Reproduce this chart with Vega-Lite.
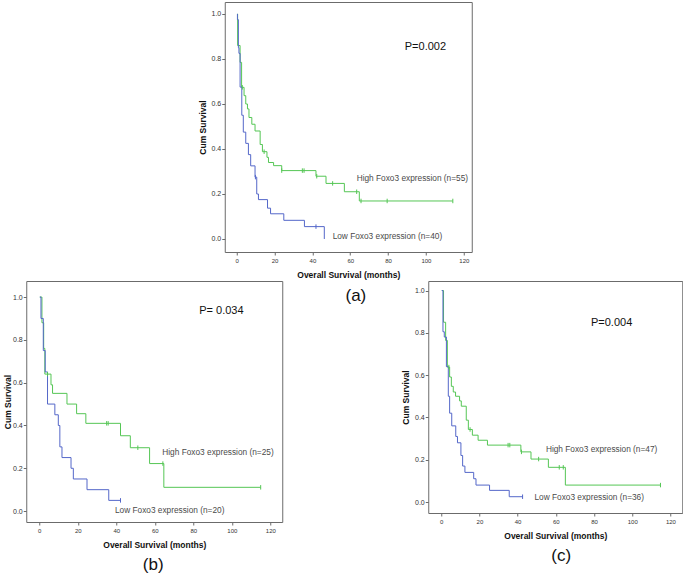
{
  "$schema": "https://vega.github.io/schema/vega-lite/v6.json",
  "padding": {"left": 3, "top": 1, "right": 0, "bottom": 0},
  "background": "white",
  "bounds": "full",
  "center": true,
  "spacing": 1,
  "config": {
    "font": "Liberation Sans",
    "view": {"stroke": "#6b6b6b", "strokeWidth": 1},
    "axis": {"domain": false, "grid": false, "tickColor": "#6b6b6b", "tickSize": 3, "labelColor": "#333333", "titleColor": "#111111", "titleFontWeight": "bold", "titleFontSize": 8.5, "labelFont": "Liberation Sans", "titleFont": "Liberation Sans"},
    "axisX": {"labelFontSize": 6, "labelPadding": 2, "titlePadding": 7},
    "axisY": {"labelFontSize": 7, "labelPadding": 1, "titlePadding": 4},
    "title": {"font": "Liberation Sans", "fontSize": 17, "fontWeight": "normal", "orient": "bottom", "color": "#111111", "offset": 8}
  },
  "datasets": {
    "km": [
      {"panel": "a", "group": "High", "t": 0.3, "s": 1},
      {"panel": "a", "group": "High", "t": 0.5, "s": 0.86},
      {"panel": "a", "group": "High", "t": 1.8, "s": 0.785},
      {"panel": "a", "group": "High", "t": 2.6, "s": 0.674},
      {"panel": "a", "group": "High", "t": 3.9, "s": 0.637},
      {"panel": "a", "group": "High", "t": 4.8, "s": 0.6},
      {"panel": "a", "group": "High", "t": 5.7, "s": 0.578},
      {"panel": "a", "group": "High", "t": 6.5, "s": 0.54},
      {"panel": "a", "group": "High", "t": 8, "s": 0.51},
      {"panel": "a", "group": "High", "t": 9.7, "s": 0.48},
      {"panel": "a", "group": "High", "t": 12.4, "s": 0.42},
      {"panel": "a", "group": "High", "t": 13.6, "s": 0.388},
      {"panel": "a", "group": "High", "t": 16, "s": 0.363},
      {"panel": "a", "group": "High", "t": 16.8, "s": 0.34},
      {"panel": "a", "group": "High", "t": 19.5, "s": 0.326},
      {"panel": "a", "group": "High", "t": 23.8, "s": 0.304},
      {"panel": "a", "group": "High", "t": 41.9, "s": 0.279},
      {"panel": "a", "group": "High", "t": 47.2, "s": 0.247},
      {"panel": "a", "group": "High", "t": 56.9, "s": 0.21},
      {"panel": "a", "group": "High", "t": 64.8, "s": 0.169},
      {"panel": "a", "group": "High", "t": 114.2, "s": 0.169},
      {"panel": "a", "group": "Low", "t": 0.3, "s": 1},
      {"panel": "a", "group": "Low", "t": 0.4, "s": 0.975},
      {"panel": "a", "group": "Low", "t": 0.9, "s": 0.85},
      {"panel": "a", "group": "Low", "t": 1.2, "s": 0.825},
      {"panel": "a", "group": "Low", "t": 1.8, "s": 0.675},
      {"panel": "a", "group": "Low", "t": 2.7, "s": 0.55},
      {"panel": "a", "group": "Low", "t": 3.5, "s": 0.475},
      {"panel": "a", "group": "Low", "t": 4.8, "s": 0.425},
      {"panel": "a", "group": "Low", "t": 6.2, "s": 0.375},
      {"panel": "a", "group": "Low", "t": 7.4, "s": 0.325},
      {"panel": "a", "group": "Low", "t": 9.7, "s": 0.275},
      {"panel": "a", "group": "Low", "t": 10.6, "s": 0.2},
      {"panel": "a", "group": "Low", "t": 11.5, "s": 0.175},
      {"panel": "a", "group": "Low", "t": 16.3, "s": 0.137},
      {"panel": "a", "group": "Low", "t": 17.9, "s": 0.112},
      {"panel": "a", "group": "Low", "t": 24.9, "s": 0.083},
      {"panel": "a", "group": "Low", "t": 35.8, "s": 0.055},
      {"panel": "a", "group": "Low", "t": 46.3, "s": 0},
      {"panel": "b", "group": "High", "t": 0.3, "s": 1},
      {"panel": "b", "group": "High", "t": 1.4, "s": 0.88},
      {"panel": "b", "group": "High", "t": 2.3, "s": 0.76},
      {"panel": "b", "group": "High", "t": 2.9, "s": 0.64},
      {"panel": "b", "group": "High", "t": 6.1, "s": 0.59},
      {"panel": "b", "group": "High", "t": 6.9, "s": 0.55},
      {"panel": "b", "group": "High", "t": 14.4, "s": 0.5},
      {"panel": "b", "group": "High", "t": 19.4, "s": 0.455},
      {"panel": "b", "group": "High", "t": 24.2, "s": 0.41},
      {"panel": "b", "group": "High", "t": 42.2, "s": 0.352},
      {"panel": "b", "group": "High", "t": 47.3, "s": 0.296},
      {"panel": "b", "group": "High", "t": 57.3, "s": 0.222},
      {"panel": "b", "group": "High", "t": 64.7, "s": 0.111},
      {"panel": "b", "group": "High", "t": 115, "s": 0.111},
      {"panel": "b", "group": "Low", "t": 0.3, "s": 1},
      {"panel": "b", "group": "Low", "t": 0.9, "s": 0.9},
      {"panel": "b", "group": "Low", "t": 2.1, "s": 0.75},
      {"panel": "b", "group": "Low", "t": 3.1, "s": 0.65},
      {"panel": "b", "group": "Low", "t": 4.3, "s": 0.5},
      {"panel": "b", "group": "Low", "t": 8.1, "s": 0.45},
      {"panel": "b", "group": "Low", "t": 9.9, "s": 0.4},
      {"panel": "b", "group": "Low", "t": 10.7, "s": 0.3},
      {"panel": "b", "group": "Low", "t": 11.8, "s": 0.25},
      {"panel": "b", "group": "Low", "t": 16.5, "s": 0.2},
      {"panel": "b", "group": "Low", "t": 17.7, "s": 0.15},
      {"panel": "b", "group": "Low", "t": 24.8, "s": 0.1},
      {"panel": "b", "group": "Low", "t": 36.1, "s": 0.05},
      {"panel": "b", "group": "Low", "t": 42.2, "s": 0.05},
      {"panel": "c", "group": "High", "t": 0.3, "s": 1},
      {"panel": "c", "group": "High", "t": 1.2, "s": 0.85},
      {"panel": "c", "group": "High", "t": 2.3, "s": 0.764},
      {"panel": "c", "group": "High", "t": 3.2, "s": 0.638},
      {"panel": "c", "group": "High", "t": 4.4, "s": 0.591},
      {"panel": "c", "group": "High", "t": 5.3, "s": 0.547},
      {"panel": "c", "group": "High", "t": 6.3, "s": 0.52},
      {"panel": "c", "group": "High", "t": 7.5, "s": 0.5},
      {"panel": "c", "group": "High", "t": 9.6, "s": 0.478},
      {"panel": "c", "group": "High", "t": 10.5, "s": 0.453},
      {"panel": "c", "group": "High", "t": 13.1, "s": 0.387},
      {"panel": "c", "group": "High", "t": 14.2, "s": 0.343},
      {"panel": "c", "group": "High", "t": 16.3, "s": 0.316},
      {"panel": "c", "group": "High", "t": 19.3, "s": 0.292},
      {"panel": "c", "group": "High", "t": 24.2, "s": 0.269},
      {"panel": "c", "group": "High", "t": 41.7, "s": 0.237},
      {"panel": "c", "group": "High", "t": 47, "s": 0.203},
      {"panel": "c", "group": "High", "t": 56.1, "s": 0.164},
      {"panel": "c", "group": "High", "t": 65, "s": 0.08},
      {"panel": "c", "group": "High", "t": 114.8, "s": 0.08},
      {"panel": "c", "group": "Low", "t": 0.3, "s": 1},
      {"panel": "c", "group": "Low", "t": 0.9, "s": 0.805},
      {"panel": "c", "group": "Low", "t": 1.6, "s": 0.78},
      {"panel": "c", "group": "Low", "t": 2.7, "s": 0.64},
      {"panel": "c", "group": "Low", "t": 3.7, "s": 0.5},
      {"panel": "c", "group": "Low", "t": 4.4, "s": 0.42},
      {"panel": "c", "group": "Low", "t": 5.5, "s": 0.36},
      {"panel": "c", "group": "Low", "t": 7.6, "s": 0.31},
      {"panel": "c", "group": "Low", "t": 8.5, "s": 0.28},
      {"panel": "c", "group": "Low", "t": 10.3, "s": 0.22},
      {"panel": "c", "group": "Low", "t": 11.2, "s": 0.17},
      {"panel": "c", "group": "Low", "t": 12.4, "s": 0.14},
      {"panel": "c", "group": "Low", "t": 17, "s": 0.11},
      {"panel": "c", "group": "Low", "t": 18.2, "s": 0.08},
      {"panel": "c", "group": "Low", "t": 25.3, "s": 0.055},
      {"panel": "c", "group": "Low", "t": 35.6, "s": 0.025},
      {"panel": "c", "group": "Low", "t": 42.6, "s": 0.025}
    ],
    "cens": [
      {"panel": "a", "group": "High", "t": 3.0, "s": 0.674},
      {"panel": "a", "group": "High", "t": 14.5, "s": 0.388},
      {"panel": "a", "group": "High", "t": 23.8, "s": 0.304},
      {"panel": "a", "group": "High", "t": 34.7, "s": 0.304},
      {"panel": "a", "group": "High", "t": 35.6, "s": 0.304},
      {"panel": "a", "group": "High", "t": 42.3, "s": 0.279},
      {"panel": "a", "group": "High", "t": 50.7, "s": 0.247},
      {"panel": "a", "group": "High", "t": 63.4, "s": 0.21},
      {"panel": "a", "group": "High", "t": 65.7, "s": 0.169},
      {"panel": "a", "group": "High", "t": 79.5, "s": 0.169},
      {"panel": "a", "group": "High", "t": 114.2, "s": 0.169},
      {"panel": "a", "group": "Low", "t": 9.9, "s": 0.275},
      {"panel": "a", "group": "Low", "t": 41.9, "s": 0.055},
      {"panel": "b", "group": "High", "t": 4.3, "s": 0.64},
      {"panel": "b", "group": "High", "t": 35, "s": 0.41},
      {"panel": "b", "group": "High", "t": 35.8, "s": 0.41},
      {"panel": "b", "group": "High", "t": 51.2, "s": 0.296},
      {"panel": "b", "group": "High", "t": 64.2, "s": 0.222},
      {"panel": "b", "group": "High", "t": 115, "s": 0.111},
      {"panel": "b", "group": "Low", "t": 42.2, "s": 0.05},
      {"panel": "c", "group": "High", "t": 4.0, "s": 0.638},
      {"panel": "c", "group": "High", "t": 15.1, "s": 0.343},
      {"panel": "c", "group": "High", "t": 35, "s": 0.269},
      {"panel": "c", "group": "High", "t": 35.9, "s": 0.269},
      {"panel": "c", "group": "High", "t": 42, "s": 0.237},
      {"panel": "c", "group": "High", "t": 51, "s": 0.203},
      {"panel": "c", "group": "High", "t": 61.8, "s": 0.164},
      {"panel": "c", "group": "High", "t": 63.9, "s": 0.164},
      {"panel": "c", "group": "High", "t": 114.8, "s": 0.08},
      {"panel": "c", "group": "Low", "t": 42.6, "s": 0.025}
    ],
    "notes": [
      {"panel": "a", "kind": "p", "t": 88.8, "s": 0.853, "label": "P=0.002"},
      {"panel": "a", "kind": "group", "t": 63.4, "s": 0.267, "label": "High Foxo3 expression (n=55)"},
      {"panel": "a", "kind": "group", "t": 50.7, "s": 0.009, "label": "Low Foxo3 expression (n=40)"},
      {"panel": "b", "kind": "p", "t": 83.1, "s": 0.935, "label": "P= 0.034"},
      {"panel": "b", "kind": "group", "t": 63.9, "s": 0.272, "label": "High Foxo3 expression (n=25)"},
      {"panel": "b", "kind": "group", "t": 39.3, "s": 0.0, "label": "Low Foxo3 expression (n=20)"},
      {"panel": "c", "kind": "p", "t": 78.4, "s": 0.848, "label": "P=0.004"},
      {"panel": "c", "kind": "group", "t": 54.8, "s": 0.245, "label": "High Foxo3 expression (n=47)"},
      {"panel": "c", "kind": "group", "t": 48.8, "s": 0.017, "label": "Low Foxo3 expression (n=36)"}
    ]
  },
  "vconcat": [
    {
      "width": 247,
      "height": 250,
      "resolve": {"axis": {"y": "independent"}},
      "encoding": {
        "x": {"field": "t", "type": "quantitative", "scale": {"domain": [-6.3, 124.2], "nice": false, "zero": false}, "axis": {"values": [0, 20, 40, 60, 80, 100, 120], "title": "Overall Survival (months)"}}
      },
      "layer": [
        {"data": {"name": "km"}, "transform": [{"filter": "datum.panel == 'a'"}], "mark": {"type": "line", "interpolate": "step-after", "strokeWidth": 1}, "encoding": {"y": {"field": "s", "type": "quantitative", "scale": {"domain": [-0.0578, 1.0533], "nice": false, "zero": false}, "axis": {"values": [0, 0.2, 0.4, 0.6, 0.8, 1], "format": ".1f", "title": "Cum Survival"}}, "color": {"field": "group", "type": "nominal", "scale": {"domain": ["High", "Low"], "range": ["#55c655", "#5467c9"]}, "legend": null}}},
        {"data": {"name": "cens"}, "transform": [{"filter": "datum.panel == 'a'"}], "mark": {"type": "point", "shape": "M0,-1L0,1", "filled": false, "size": 20, "strokeWidth": 1, "opacity": 1}, "encoding": {"y": {"field": "s", "type": "quantitative", "axis": {"orient": "right", "values": [0.5], "labels": false, "title": null, "tickSize": 12, "tickOpacity": 0}}, "color": {"field": "group", "type": "nominal", "scale": {"domain": ["High", "Low"], "range": ["#55c655", "#5467c9"]}, "legend": null}}},
        {"data": {"name": "notes"}, "transform": [{"filter": "datum.panel == 'a' && datum.kind == 'p'"}], "mark": {"type": "text", "align": "left", "baseline": "middle", "fontSize": 11, "color": "#111111"}, "encoding": {"y": {"field": "s", "type": "quantitative", "axis": null}, "text": {"field": "label"}}},
        {"data": {"name": "notes"}, "transform": [{"filter": "datum.panel == 'a' && datum.kind == 'group'"}], "mark": {"type": "text", "align": "left", "baseline": "middle", "fontSize": 8.3, "color": "#4a4a4a"}, "encoding": {"y": {"field": "s", "type": "quantitative", "axis": null}, "text": {"field": "label"}}}
      ]
    },
    {
      "title": {"text": "(a)", "orient": "top", "anchor": "middle", "offset": -24, "dx": 13},
      "hconcat": [
        {
          "width": 256,
          "height": 241,
          "title": {"text": "(b)", "dx": -1},
          "encoding": {
            "x": {"field": "t", "type": "quantitative", "scale": {"domain": [-6.75, 126.2], "nice": false, "zero": false}, "axis": {"values": [0, 20, 40, 60, 80, 100, 120], "title": "Overall Survival (months)"}},
            "y": {"field": "s", "type": "quantitative", "scale": {"domain": [-0.051, 1.075], "nice": false, "zero": false}, "axis": {"values": [0, 0.2, 0.4, 0.6, 0.8, 1], "format": ".1f", "title": "Cum Survival", "titlePadding": 0}}
          },
          "layer": [
            {"data": {"name": "km"}, "transform": [{"filter": "datum.panel == 'b'"}], "mark": {"type": "line", "interpolate": "step-after", "strokeWidth": 1}, "encoding": {"color": {"field": "group", "type": "nominal", "scale": {"domain": ["High", "Low"], "range": ["#55c655", "#5467c9"]}, "legend": null}}},
            {"data": {"name": "cens"}, "transform": [{"filter": "datum.panel == 'b'"}], "mark": {"type": "point", "shape": "M0,-1L0,1", "filled": false, "size": 20, "strokeWidth": 1, "opacity": 1}, "encoding": {"color": {"field": "group", "type": "nominal", "scale": {"domain": ["High", "Low"], "range": ["#55c655", "#5467c9"]}, "legend": null}}},
            {"data": {"name": "notes"}, "transform": [{"filter": "datum.panel == 'b' && datum.kind == 'p'"}], "mark": {"type": "text", "align": "left", "baseline": "middle", "fontSize": 11, "color": "#111111"}, "encoding": {"text": {"field": "label"}}},
            {"data": {"name": "notes"}, "transform": [{"filter": "datum.panel == 'b' && datum.kind == 'group'"}], "mark": {"type": "text", "align": "left", "baseline": "middle", "fontSize": 8.3, "color": "#4a4a4a"}, "encoding": {"text": {"field": "label"}}}
          ]
        },
        {
          "width": 254,
          "height": 232,
          "title": {"text": "(c)", "dx": 6},
          "encoding": {
            "x": {"field": "t", "type": "quantitative", "scale": {"domain": [-6.8, 126.2], "nice": false, "zero": false}, "axis": {"values": [0, 20, 40, 60, 80, 100, 120], "title": "Overall Survival (months)"}},
            "y": {"field": "s", "type": "quantitative", "scale": {"domain": [-0.052, 1.045], "nice": false, "zero": false}, "axis": {"values": [0, 0.2, 0.4, 0.6, 0.8, 1], "format": ".1f", "title": "Cum Survival"}}
          },
          "layer": [
            {"data": {"name": "km"}, "transform": [{"filter": "datum.panel == 'c'"}], "mark": {"type": "line", "interpolate": "step-after", "strokeWidth": 1}, "encoding": {"color": {"field": "group", "type": "nominal", "scale": {"domain": ["High", "Low"], "range": ["#55c655", "#5467c9"]}, "legend": null}}},
            {"data": {"name": "cens"}, "transform": [{"filter": "datum.panel == 'c'"}], "mark": {"type": "point", "shape": "M0,-1L0,1", "filled": false, "size": 20, "strokeWidth": 1, "opacity": 1}, "encoding": {"color": {"field": "group", "type": "nominal", "scale": {"domain": ["High", "Low"], "range": ["#55c655", "#5467c9"]}, "legend": null}}},
            {"data": {"name": "notes"}, "transform": [{"filter": "datum.panel == 'c' && datum.kind == 'p'"}], "mark": {"type": "text", "align": "left", "baseline": "middle", "fontSize": 11, "color": "#111111"}, "encoding": {"text": {"field": "label"}}},
            {"data": {"name": "notes"}, "transform": [{"filter": "datum.panel == 'c' && datum.kind == 'group'"}], "mark": {"type": "text", "align": "left", "baseline": "middle", "fontSize": 8.3, "color": "#4a4a4a"}, "encoding": {"text": {"field": "label"}}}
          ]
        }
      ],
      "spacing": 146,
      "bounds": "flush"
    }
  ]
}
